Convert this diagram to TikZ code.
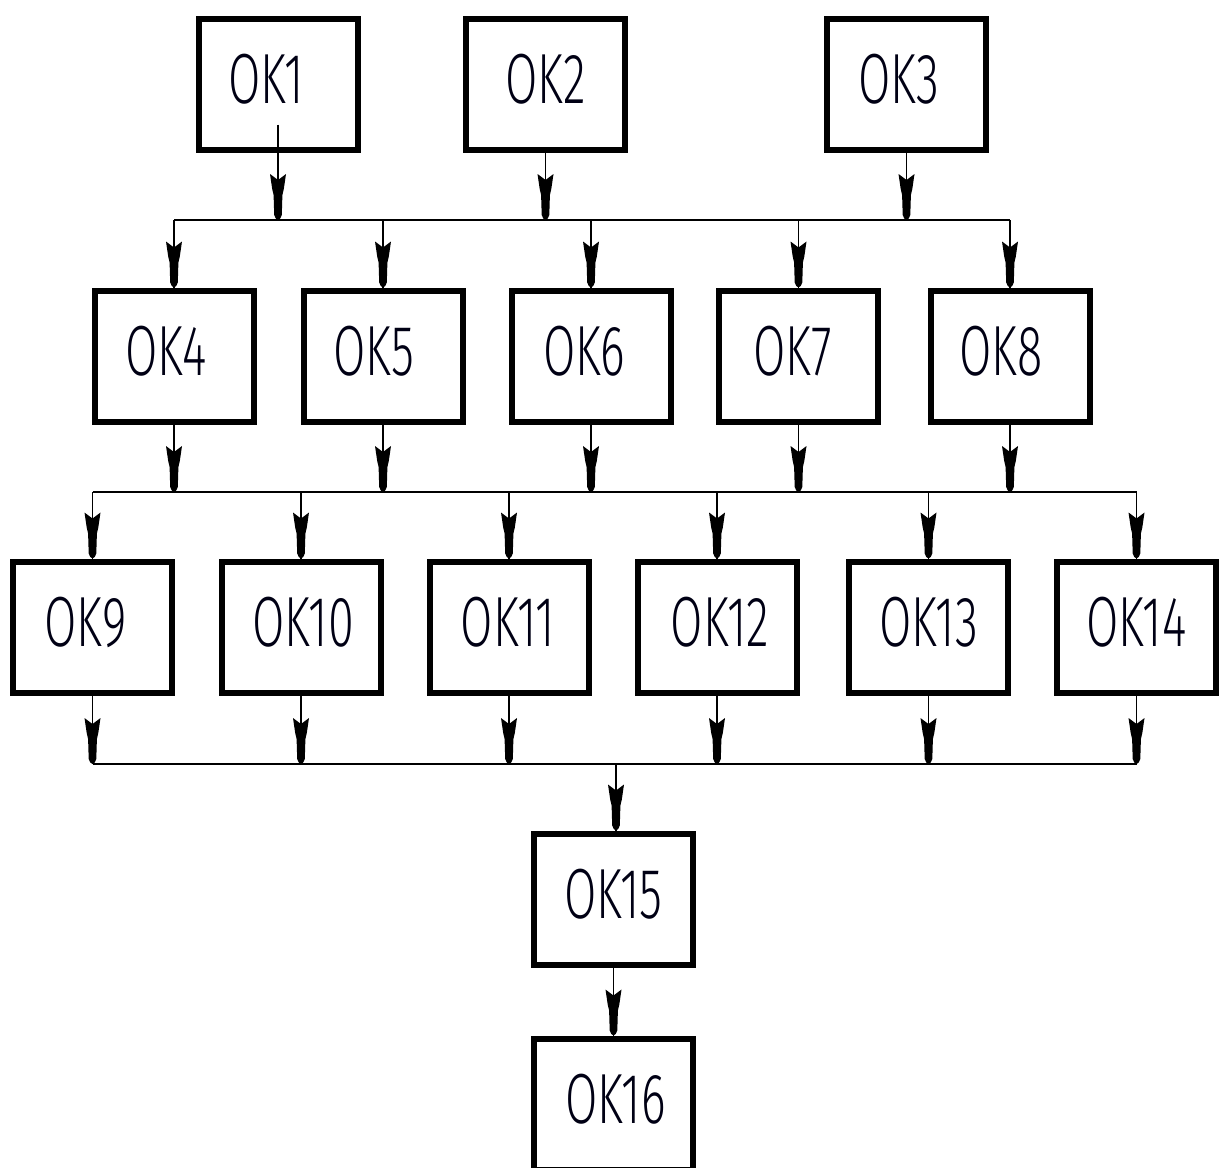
\documentclass[tikz,border=0pt]{standalone}
\usepackage{fontspec}
\setmainfont{Fira Sans}[UprightFont=* Light, FakeStretch=0.66]
\usetikzlibrary{decorations.markings}
\tikzset{
  okbox/.style={draw, line width=6pt, minimum width=159pt, minimum height=131pt,
    inner sep=0pt},
  oktext/.style={inner sep=0pt, font=\fontsize{71}{76}\selectfont, text=black!92!blue},
  conn/.style={line width=1.6pt, postaction={decorate},
    decoration={markings, mark=at position 1 with {
      \fill (0pt,0pt) -- (-1.5pt,2.2pt) -- (-5pt,3.8pt) -- (-25pt,4.4pt) -- (-31pt,5.8pt)
        -- (-46pt,8pt) -- (-40pt,0pt) -- (-46pt,-8pt) -- (-31pt,-5.8pt) -- (-25pt,-4.4pt)
        -- (-5pt,-3.8pt) -- (-1.5pt,-2.2pt) -- cycle;}}},
  busline/.style={line width=1.6pt},
}
% \okb{name}{x}{y}{text dx}{text}
\newcommand{\okb}[5]{%
  \node[okbox] (#1) at (#2,#3) {};
  \node[oktext] (#1t) at ([shift={(#4,5)}]#1.center) {#5};}
\begin{document}
\begin{tikzpicture}[x=1pt,y=1pt]
\useasboundingbox (0,0) rectangle (1223,-1167);
\begin{scope}
\clip (0,0) rectangle (1223,-1167);
% row 1
\okb{OK1}{278}{-84}{-12}{OK1}
\okb{OK2}{545.5}{-84}{0}{OK2}
\okb{OK3}{906.5}{-84}{-8}{OK3}
% row 2
\okb{OK4}{174}{-356}{-8}{OK4}
\okb{OK5}{383}{-356}{-9}{OK5}
\okb{OK6}{591}{-356}{-7}{OK6}
\okb{OK7}{798.5}{-356}{-6}{OK7}
\okb{OK8}{1010}{-356}{-9}{OK8}
% row 3
\okb{OK9}{92.5}{-627}{-7}{OK9}
\okb{OK10}{301}{-627}{2}{OK10}
\okb{OK11}{509}{-627}{-1}{OK11}
\okb{OK12}{717}{-627}{3}{OK12}
\okb{OK13}{928.5}{-627}{0}{OK13}
\okb{OK14}{1136.5}{-627}{0}{OK14}
% bottom
\okb{OK15}{613.5}{-899}{0}{OK15}
\okb{OK16}{613.5}{-1104}{2}{OK16}
% buses
\coordinate (b1) at (0,-220);
\coordinate (b2) at (0,-492);
\coordinate (b3) at (0,-764);
\coordinate (b3m) at (616,-764);
\draw[busline] (OK4.north |- b1) -- (OK8.north |- b1);
\draw[busline] (OK9.north |- b2) -- (OK14.north |- b2);
\draw[busline] (OK9.south |- b3) -- (OK14.south |- b3);
% row1 -> bus1
\draw[conn] ([yshift=28pt]OK1.south) -- (OK1.south |- b1);
\foreach \n in {OK2,OK3}{\draw[conn] (\n.south) -- (\n.south |- b1);}
% bus1 -> row2
\foreach \n in {OK4,OK5,OK6,OK7,OK8}{\draw[conn] (\n.north |- b1) -- (\n.north);}
% row2 -> bus2
\foreach \n in {OK4,OK5,OK6,OK7,OK8}{\draw[conn] (\n.south) -- (\n.south |- b2);}
% bus2 -> row3
\foreach \n in {OK9,OK10,OK11,OK12,OK13,OK14}{\draw[conn] (\n.north |- b2) -- (\n.north);}
% row3 -> bus3
\foreach \n in {OK9,OK10,OK11,OK12,OK13,OK14}{\draw[conn] (\n.south) -- (\n.south |- b3);}
% bus3 -> OK15 -> OK16
\draw[conn] (b3m) -- (b3m |- OK15.north);
\draw[conn] (OK15.south) -- (OK16.north);
\end{scope}
\end{tikzpicture}
\end{document}
